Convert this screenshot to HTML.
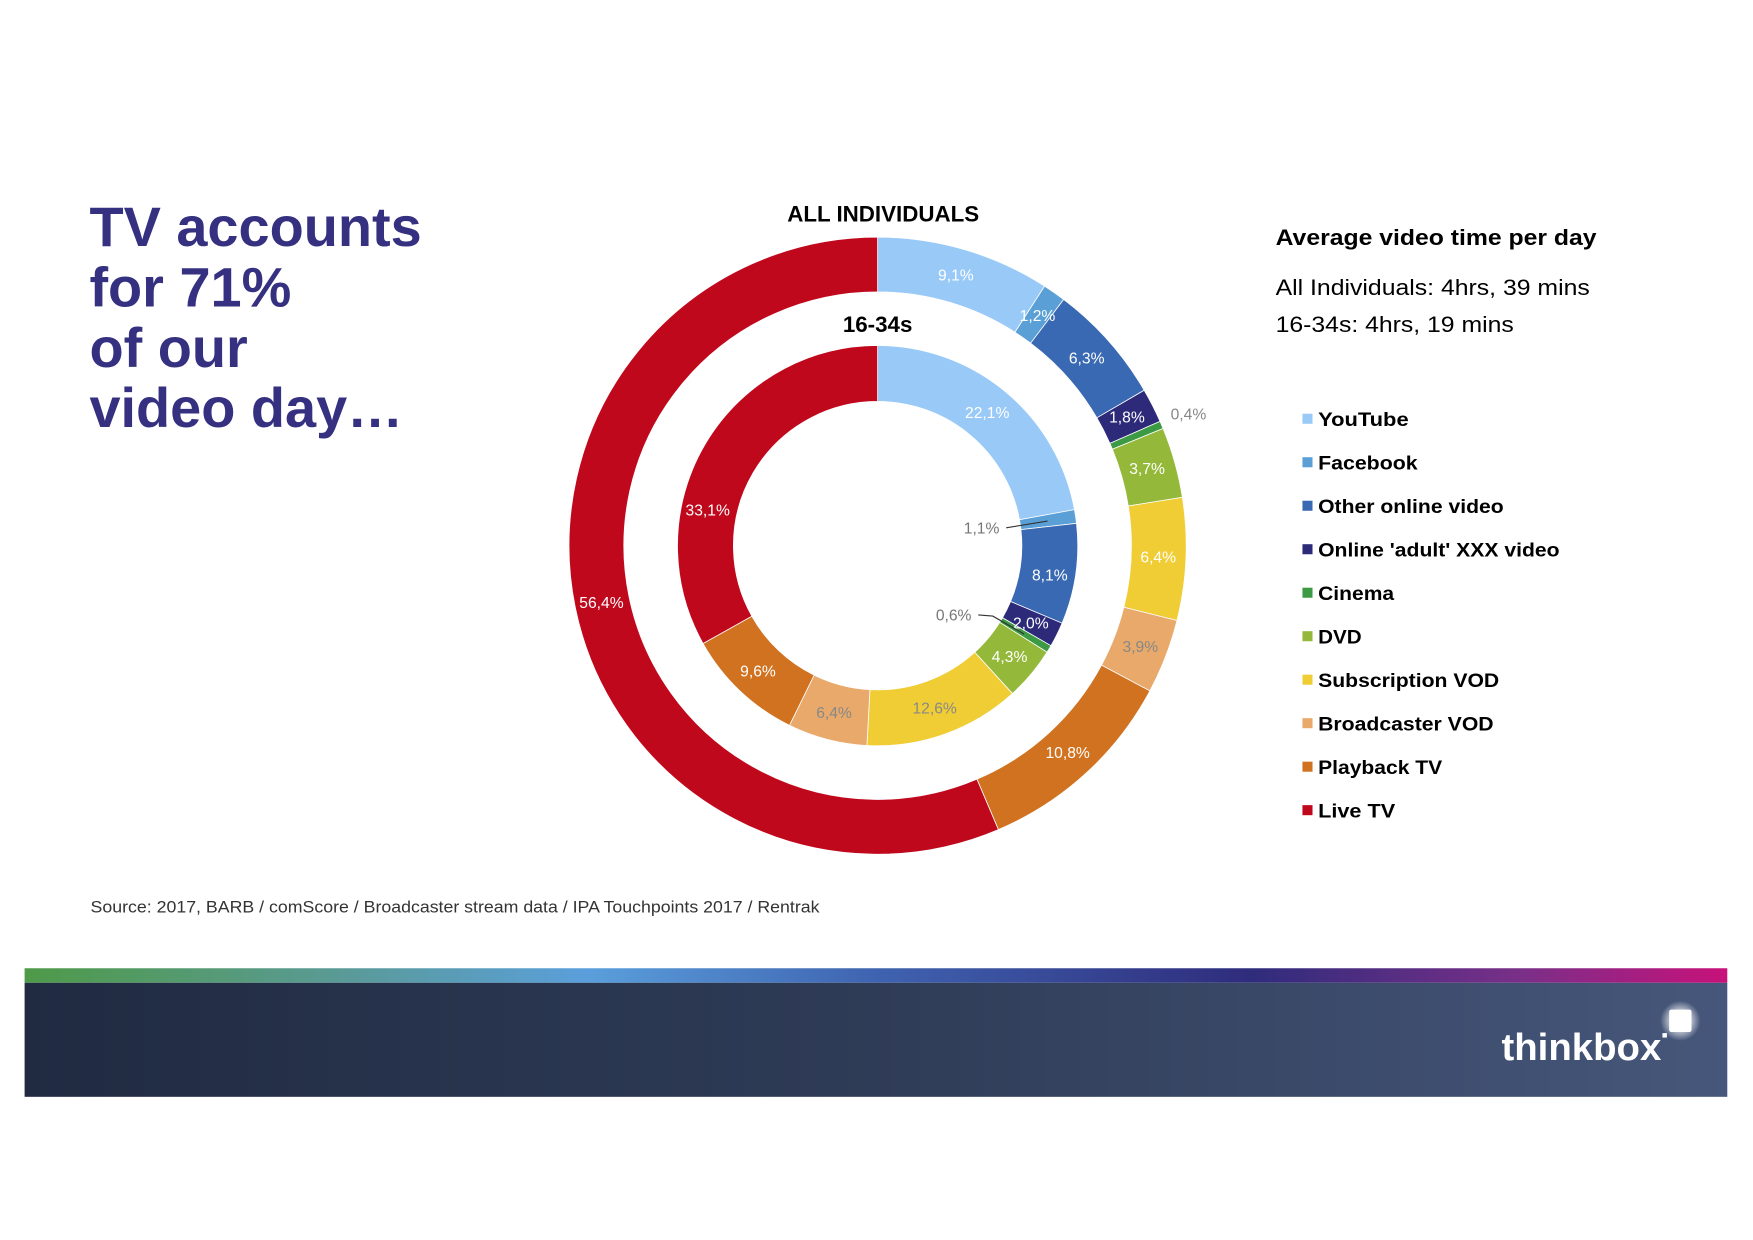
<!DOCTYPE html>
<html><head><meta charset="utf-8"><style>
html,body{margin:0;padding:0;background:#fff;width:1753px;height:1240px;overflow:hidden}
svg{display:block}
text{font-family:"Liberation Sans",sans-serif}
</style></head><body>
<svg id="s" width="1753" height="1240" viewBox="0 0 1568 1109" xmlns="http://www.w3.org/2000/svg">
<defs>
<linearGradient id="strip" x1="0" x2="1" y1="0" y2="0">
<stop offset="0" stop-color="#4e9a48"/><stop offset="0.18" stop-color="#5a9a94"/><stop offset="0.33" stop-color="#5a9fdc"/><stop offset="0.5" stop-color="#3f63b0"/><stop offset="0.72" stop-color="#2f2c7c"/><stop offset="0.88" stop-color="#7a2f88"/><stop offset="1" stop-color="#c8117a"/>
</linearGradient>
<linearGradient id="band" x1="0" x2="1" y1="0" y2="0">
<stop offset="0" stop-color="#202b42"/><stop offset="0.5" stop-color="#2f3c57"/><stop offset="1" stop-color="#46577b"/>
</linearGradient>
<radialGradient id="glow"><stop offset="0.4" stop-color="#fff" stop-opacity="0.8"/><stop offset="1" stop-color="#fff" stop-opacity="0"/></radialGradient>
</defs>
<g fill="#35307f" font-weight="bold" font-size="50">
<text x="80" y="220">TV accounts</text>
<text x="80" y="274">for 71%</text>
<text x="80" y="328">of our</text>
<text x="80" y="382">video day…</text>
</g>
<text x="790" y="198" font-size="20" font-weight="bold" text-anchor="middle" fill="#000">ALL INDIVIDUALS</text>
<g id="rings"></g>
<text x="785" y="297" font-size="20" font-weight="bold" text-anchor="middle" fill="#000">16-34s</text>
<g id="labels" font-size="14" text-anchor="middle"></g>
<line x1="900" y1="472" x2="937" y2="466" stroke="#333" stroke-width="1"/>
<polyline points="875,550 888,551 916,567" fill="none" stroke="#333" stroke-width="1"/>
<text x="1141" y="219" font-size="20" font-weight="bold" fill="#000" textLength="287" lengthAdjust="spacingAndGlyphs">Average video time per day</text>
<text x="1141" y="264" font-size="20" fill="#000" textLength="281" lengthAdjust="spacingAndGlyphs">All Individuals: 4hrs, 39 mins</text>
<text x="1141" y="297" font-size="20" fill="#000" textLength="213" lengthAdjust="spacingAndGlyphs">16-34s: 4hrs, 19 mins</text>
<g id="legend" font-size="17" font-weight="bold" fill="#000"></g>
<text x="81" y="816" font-size="15" fill="#333" textLength="652" lengthAdjust="spacingAndGlyphs">Source: 2017, BARB / comScore / Broadcaster stream data / IPA Touchpoints 2017 / Rentrak</text>
<rect x="22" y="866" width="1523" height="13" fill="url(#strip)"/>
<rect x="22" y="879" width="1523" height="102" fill="url(#band)"/>
<text x="1343" y="948" font-size="34" fill="#fff" font-weight="bold" textLength="143" lengthAdjust="spacingAndGlyphs">thinkbox</text>
<circle cx="1503" cy="913" r="18" fill="url(#glow)"/>
<rect x="1493" y="903" width="20" height="20" rx="2" fill="#fff"/>
<rect x="1487" y="924" width="4" height="4" fill="#fff"/>
</svg>
<script>
const C=['#99c9f7','#5aa0d6','#3a69b3','#2e2a7a','#3c9a44','#94b93a','#f0cd35','#e8a96a','#d0721f','#c0081d'];
const N=['YouTube','Facebook','Other online video',"Online 'adult' XXX video",'Cinema','DVD','Subscription VOD','Broadcaster VOD','Playback TV','Live TV'];
const W=[81,89,166,216,68,39,162,157,111,69];
const outer=[9.1,1.2,6.3,1.8,0.4,3.7,6.4,3.9,10.8,56.4];
const inner=[22.1,1.1,8.1,2.0,0.6,4.3,12.6,6.4,9.6,33.1];
const cx=785,cy=488,ns='http://www.w3.org/2000/svg';
const g=document.getElementById('rings');
function ring(v,R,r){let tot=v.reduce((a,b)=>a+b,0),a=0;
v.forEach((x,i)=>{let a0=a/tot*2*Math.PI,a1=(a+x)/tot*2*Math.PI;a+=x;
const p=(rad,t)=>[cx+rad*Math.sin(t),cy-rad*Math.cos(t)];
let l=(a1-a0)>Math.PI?1:0;let [x0,y0]=p(R,a0),[x1,y1]=p(R,a1),[x2,y2]=p(r,a1),[x3,y3]=p(r,a0);
let e=document.createElementNS(ns,'path');
e.setAttribute('d',`M${x0},${y0}A${R},${R} 0 ${l} 1 ${x1},${y1}L${x2},${y2}A${r},${r} 0 ${l} 0 ${x3},${y3}Z`);
e.setAttribute('fill',C[i]);e.setAttribute('stroke','#fff');e.setAttribute('stroke-width','0.7');g.appendChild(e);});}
ring(outer,276,227);ring(inner,179,129);
const L=[['9,1%',855,246,'#fff'],['1,2%',928,282,'#fff'],['6,3%',972,320,'#fff'],['1,8%',1008,373,'#fff'],['0,4%',1063,370,'#888'],['3,7%',1026,419,'#fff'],['6,4%',1036,498,'#fff'],['3,9%',1020,578,'#888'],['10,8%',955,673,'#fff'],['56,4%',538,539,'#fff'],['22,1%',883,369,'#fff'],['1,1%',878,472,'#777'],['8,1%',939,514,'#fff'],['0,6%',853,550,'#777'],['2,0%',922,557,'#fff'],['4,3%',903,587,'#fff'],['12,6%',836,633,'#888'],['6,4%',746,637,'#888'],['9,6%',678,600,'#fff'],['33,1%',633,456,'#fff']];
const lg=document.getElementById('labels');
L.forEach(([t,x,y,c])=>{let e=document.createElementNS(ns,'text');e.setAttribute('x',x);e.setAttribute('y',y+5);e.setAttribute('fill',c);e.textContent=t;lg.appendChild(e);});
const lgd=document.getElementById('legend');
N.forEach((n,i)=>{let y=375+i*38.9;let r=document.createElementNS(ns,'rect');r.setAttribute('x',1165);r.setAttribute('y',y-5);r.setAttribute('width',9);r.setAttribute('height',9);r.setAttribute('fill',C[i]);lgd.appendChild(r);
let t=document.createElementNS(ns,'text');t.setAttribute('x',1179);t.setAttribute('y',y+6);t.setAttribute('textLength',W[i]);t.setAttribute('lengthAdjust','spacingAndGlyphs');t.textContent=n;lgd.appendChild(t);});
</script>
</body></html>
